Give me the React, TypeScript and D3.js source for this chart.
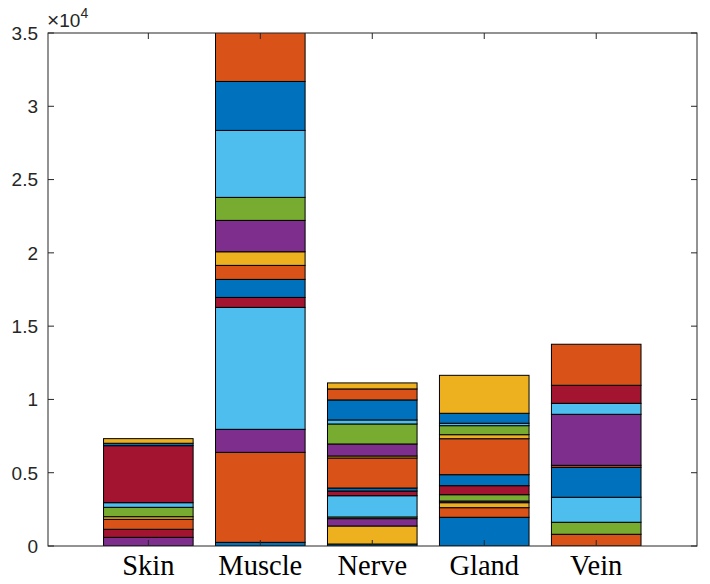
import * as d3 from "d3";
import { useEffect } from "react";

const WIDTH = 710;
const HEIGHT = 584;
const MARGIN = { top: 33, right: 13, bottom: 38, left: 48 };

const categories = ["Skin", "Muscle", "Nerve", "Gland", "Vein"];

// 17 stacked series per category, bottom to top
const skin = [0, 0, 0, 590, 0, 0, 550, 0, 680, 180, 0, 640, 315, 3890, 165, 0, 315];
const muscle = [250, 6140, 0, 1570, 0, 8320, 680, 1230, 955, 930, 2140, 1570, 4570, 0, 3340, 4200, 0];
const nerve = [136, 0, 1230, 500, 115, 1450, 320, 205, 2050, 135, 820, 1365, 275, 0, 1365, 750, 410];
const gland = [1960, 655, 340, 115, 430, 0, 615, 750, 2455, 275, 0, 615, 165, 0, 680, 0, 2590];
const vein = [0, 800, 0, 0, 820, 1705, 0, 2045, 135, 0, 3480, 0, 750, 1230, 0, 2800, 0];

const yTicks = [0, 5000, 10000, 15000, 20000, 25000, 30000, 35000];
const yTickLabels = ["0", "0.5", "1", "1.5", "2", "2.5", "3", "3.5"];

// MATLAB default color order
const colorOrder = ["#0072BD", "#D95319", "#EDB120", "#7E2F8E", "#77AC30", "#4DBEEE", "#A2142F"];

const AXIS_COLOR = "#262626";

export default function App() {
  useEffect(() => {
    document.body.style.margin = "0";
  }, []);

  const innerW = WIDTH - MARGIN.left - MARGIN.right;
  const innerH = HEIGHT - MARGIN.top - MARGIN.bottom;

  const rows = [skin, muscle, nerve, gland, vein];
  const nSeries = skin.length;
  const keys = d3.range(nSeries).map((i) => `s${i}`);
  const table = categories.map((c, ci) => {
    const row: any = { cat: c, idx: ci + 1 };
    keys.forEach((k, i) => (row[k] = rows[ci][i]));
    return row;
  });
  const stacked = d3.stack().keys(keys)(table);

  const x = d3.scaleLinear().domain([0.104, 5.9]).range([0, innerW]);
  const y = d3.scaleLinear().domain([0, 35000]).range([innerH, 0]);
  const barW = x(1.8) - x(1);
  const tickLen = 6;

  return (
    <svg width={WIDTH} height={HEIGHT} style={{ display: "block" }}>
      <defs>
        <clipPath id="plot-clip">
          <rect x={0} y={0} width={innerW} height={innerH} />
        </clipPath>
      </defs>
      <rect width={WIDTH} height={HEIGHT} fill="white" />
      <g transform={`translate(${MARGIN.left},${MARGIN.top})`}>
        <g clipPath="url(#plot-clip)">
          {stacked.map((layer, si) =>
            layer.map((d, ci) => (
              <rect
                key={`${si}-${ci}`}
                x={x(ci + 1) - barW / 2}
                y={y(d[1])}
                width={barW}
                height={Math.max(0, y(d[0]) - y(d[1]))}
                fill={colorOrder[si % colorOrder.length]}
                stroke="black"
                strokeWidth={1}
              />
            ))
          )}
        </g>

        {/* box */}
        <rect x={0} y={0} width={innerW} height={innerH} fill="none" stroke={AXIS_COLOR} strokeWidth={1} />

        {/* y ticks */}
        {yTicks.map((t, i) => (
          <g key={t}>
            <line x1={0} x2={tickLen} y1={y(t)} y2={y(t)} stroke={AXIS_COLOR} />
            <line x1={innerW} x2={innerW - tickLen} y1={y(t)} y2={y(t)} stroke={AXIS_COLOR} />
            <text
              x={-10}
              y={y(t)}
              dy="0.36em"
              textAnchor="end"
              fontFamily="Liberation Sans, Arial, sans-serif"
              fontSize={19}
              fill={AXIS_COLOR}
            >
              {yTickLabels[i]}
            </text>
          </g>
        ))}

        {/* x ticks */}
        {categories.map((c, i) => (
          <g key={c}>
            <line x1={x(i + 1)} x2={x(i + 1)} y1={innerH} y2={innerH - tickLen} stroke={AXIS_COLOR} />
            <line x1={x(i + 1)} x2={x(i + 1)} y1={0} y2={tickLen} stroke={AXIS_COLOR} />
            <text
              x={x(i + 1)}
              y={innerH + 29}
              textAnchor="middle"
              fontFamily="Liberation Serif, Times New Roman, serif"
              fontSize={28.5}
              fill="black"
            >
              {c}
            </text>
          </g>
        ))}

        {/* exponent */}
        <text
          x={-1}
          y={-6}
          fontFamily="Liberation Sans, Arial, sans-serif"
          fontSize={19}
          fill={AXIS_COLOR}
        >
          <tspan fontSize={21}>×</tspan>10
          <tspan fontSize={14} dy={-9}>
            4
          </tspan>
        </text>
      </g>
    </svg>
  );
}
